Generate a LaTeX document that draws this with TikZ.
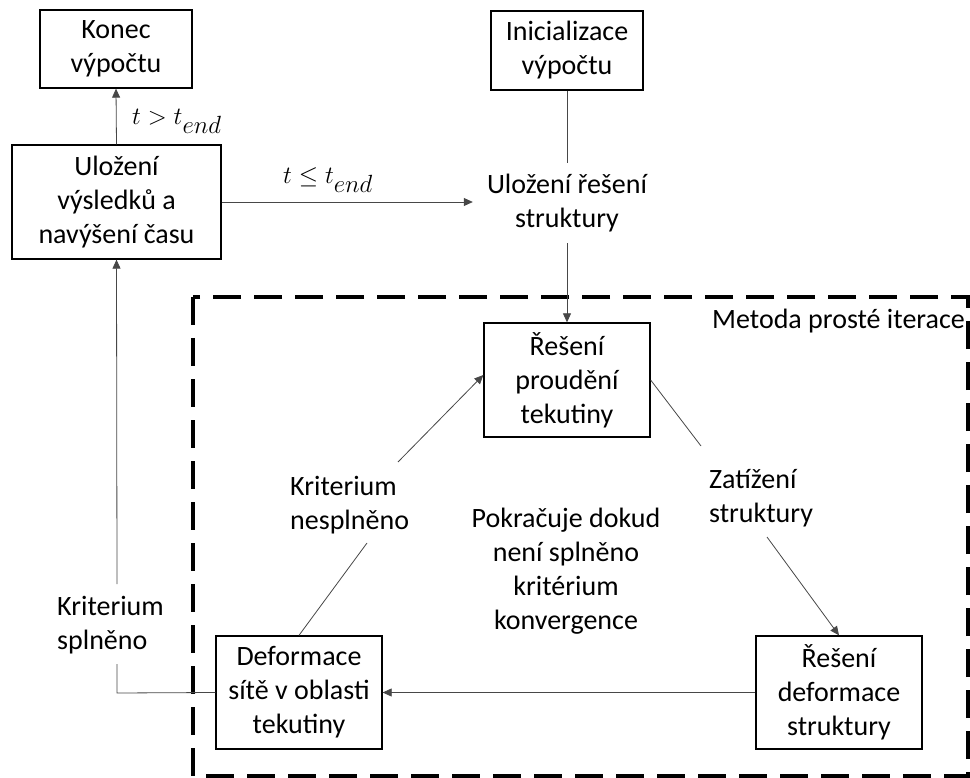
\documentclass[tikz,border=0pt]{standalone}
\usepackage{fontspec}
\setmainfont{Carlito}
\usetikzlibrary{arrows.meta}
\tikzset{
  box/.style={draw=black, line width=1.3pt, rectangle, align=center, inner sep=0pt,
    font=\fontsize{28}{34}\selectfont},
  lbl/.style={inner sep=0pt, font=\fontsize{28}{34}\selectfont},
  conn/.style={draw=black!72, line width=0.8pt},
  arr/.style={conn, -{Triangle[length=9pt,width=8pt]}},
  mth/.style={inner sep=0pt, font=\fontsize{34}{40}\selectfont}
}
\begin{document}
\begin{tikzpicture}[x=1pt,y=-1pt]
\useasboundingbox (0,0) rectangle (970,778);
% frame of the iteration method
\draw[line width=3.4pt, dash pattern=on 28pt off 13pt] (193,297) rectangle (968,776);
\node[lbl, anchor=east] (metoda) at (965,321) {Metoda prosté iterace};

\node[box, minimum width=152pt, minimum height=78pt] (konec) at (116,49) {Konec\\výpočtu};
\node[box, minimum width=209pt, minimum height=114pt] (uloz) at (116.5,202) {Uložení\\výsledků a\\navýšení času};
\node[box, minimum width=152pt, minimum height=79pt] (init) at (567,50.5) {Inicializace\\výpočtu};
\node[lbl, align=center, minimum width=188pt, minimum height=80pt] (ulozres) at (567,203) {Uložení řešení\\struktury};
\node[box, minimum width=166pt, minimum height=114pt] (reseni) at (567,380) {Řešení\\proudění\\tekutiny};
\node[box, minimum width=166pt, minimum height=113pt] (deform) at (299,692.5) {Deformace\\sítě v oblasti\\tekutiny};
\node[box, minimum width=166pt, minimum height=113pt] (resdef) at (839,692.5) {Řešení\\deformace\\struktury};

\node[lbl, align=left, anchor=west] (knes) at (290,505) {Kriterium\\nesplněno};
\node[lbl, align=left, anchor=west] (zat) at (709,498) {Zatížení\\struktury};
\node[lbl, align=center] (pokr) at (566,571) {Pokračuje dokud\\není splněno\\kritérium\\konvergence};
\node[lbl, align=left, anchor=west] (ksp) at (57,625) {Kriterium\\splněno};

\node[mth, anchor=west] (tgt) at (132,121) {$t > t_{end}$};
\node[mth] (tle) at (328,180) {$t \le t_{end}$};

\coordinate (zatin) at (701,446);
\coordinate (zatout) at (767,537);
\coordinate (knesin) at (367,543);
\coordinate (knesout) at (398,462);
\coordinate (corner) at (117,693);
\coordinate (kspbot) at (117,664);
\coordinate (ksptop) at (117,584);

\draw[arr] (uloz.north) -- (konec.south);
\draw[arr] (uloz.east) -- (ulozres.west |- uloz.east);
\draw[conn] (init.south) -- (ulozres.north);
\draw[arr] (ulozres.south) -- (reseni.north);
\draw[conn] (reseni.east) -- (zatin);
\draw[arr] (zatout) -- (resdef.north);
\draw[arr] (resdef.west) -- (deform.east);
\draw[conn] (deform.north) -- (knesin);
\draw[arr] (knesout) -- ([yshift=5pt]reseni.west);
\draw[conn] (deform.west) -- (corner) -- (kspbot);
\draw[arr] (ksptop) -- (uloz.south);
\end{tikzpicture}
\end{document}
